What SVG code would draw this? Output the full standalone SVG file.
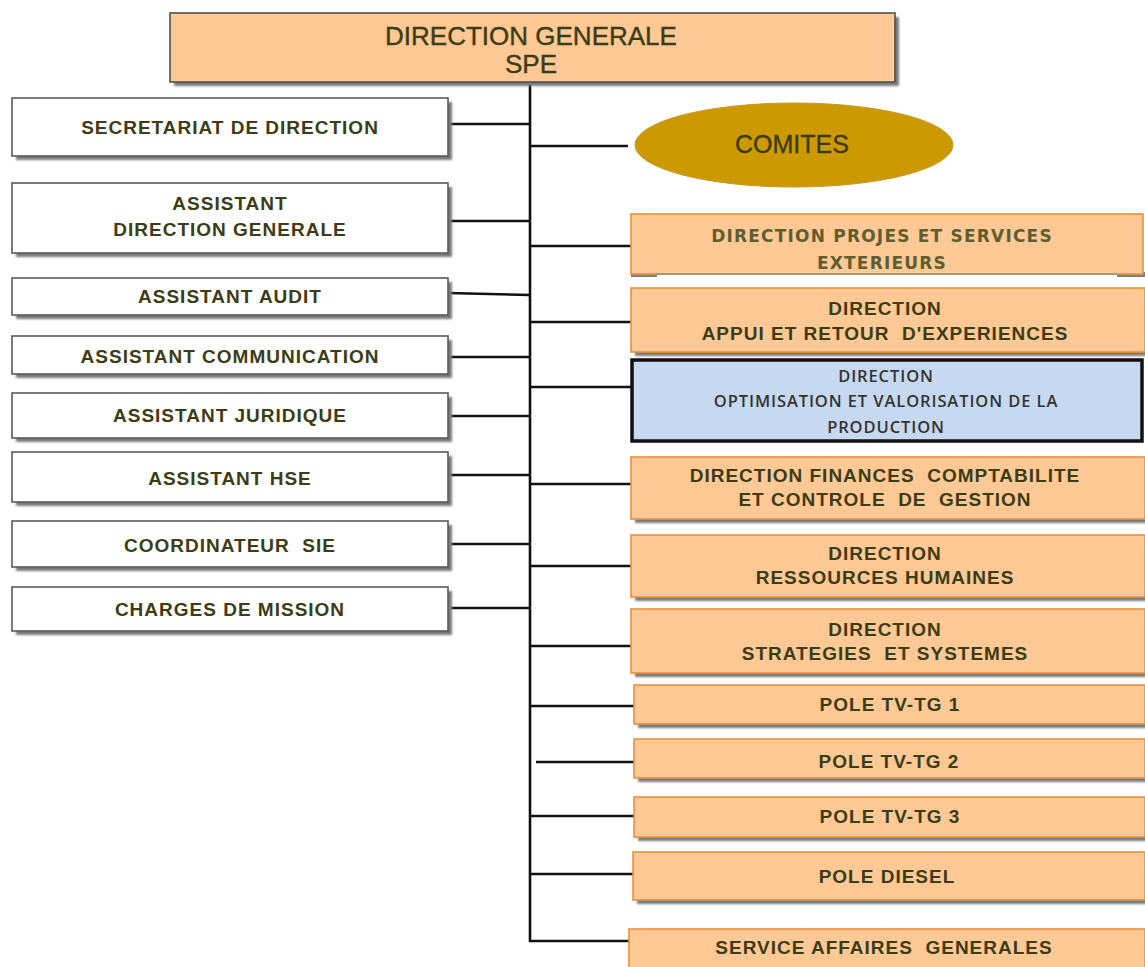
<svg xmlns="http://www.w3.org/2000/svg" width="1145" height="967" viewBox="0 0 1145 967">
<defs>
<filter id="sh" x="-5%" y="-20%" width="115%" height="160%">
<feGaussianBlur stdDeviation="1.2"/>
</filter>
<style>
.shadow{fill:#7a7a7a;filter:url(#sh)}
.lbox{fill:#ffffff;stroke:#5a5a5a;stroke-width:1.6}
.rbox{fill:#fec995;stroke:#e8923c;stroke-width:1.6}
.top{fill:#fec995;stroke:#505050;stroke-width:1.6}
.blue{fill:#c6d9f0;stroke:#111111;stroke-width:3.5}
.lt{font-family:"Liberation Sans",Arial,sans-serif;font-weight:bold;font-size:19px;letter-spacing:1px;fill:#3c3c15;text-anchor:middle;white-space:pre}
.rt{font-family:"Liberation Sans",Arial,sans-serif;font-weight:bold;font-size:19px;letter-spacing:1px;fill:#3c3c15;text-anchor:middle;white-space:pre}
.pt{font-family:"DejaVu Sans",sans-serif;font-weight:bold;font-size:17px;letter-spacing:1.2px;fill:#5e5e30;text-anchor:middle}
.bt{font-family:"Open Sans","Noto Sans",sans-serif;font-weight:600;font-size:16.5px;letter-spacing:0.9px;fill:#333333;text-anchor:middle}
.tt{font-family:"Liberation Sans",Arial,sans-serif;font-size:26px;fill:#3c3c15;stroke:#3c3c15;stroke-width:0.4;text-anchor:middle}
.ct{font-family:"Liberation Sans",Arial,sans-serif;font-size:25px;fill:#3a3a12;stroke:#3a3a12;stroke-width:0.3;text-anchor:middle}
.ln{stroke:#111111;stroke-width:2.6;fill:none}
</style>
</defs>
<rect width="1145" height="967" fill="#ffffff"/>

<g id="connectors">
<path class="ln" d="M530 82 V941 H630"/>
<line class="ln" x1="448" y1="124" x2="530" y2="124"/>
<line class="ln" x1="448" y1="221" x2="530" y2="221"/>
<line class="ln" x1="448" y1="293" x2="530" y2="295"/>
<line class="ln" x1="448" y1="357" x2="530" y2="357"/>
<line class="ln" x1="448" y1="416" x2="530" y2="416"/>
<line class="ln" x1="448" y1="475" x2="530" y2="475"/>
<line class="ln" x1="448" y1="544" x2="530" y2="544"/>
<line class="ln" x1="448" y1="608" x2="530" y2="608"/>
<line class="ln" x1="530" y1="146" x2="628" y2="146"/>
<line class="ln" x1="530" y1="246" x2="631" y2="246"/>
<line class="ln" x1="530" y1="322" x2="631" y2="322"/>
<line class="ln" x1="530" y1="387" x2="631" y2="387"/>
<line class="ln" x1="530" y1="484" x2="631" y2="484"/>
<line class="ln" x1="530" y1="566" x2="631" y2="566"/>
<line class="ln" x1="530" y1="646" x2="631" y2="646"/>
<line class="ln" x1="530" y1="706" x2="634" y2="706"/>
<line class="ln" x1="536" y1="762" x2="634" y2="762"/>
<line class="ln" x1="530" y1="816" x2="634" y2="816"/>
<line class="ln" x1="530" y1="874" x2="633" y2="874"/>
</g>

<g id="direction-generale">
<rect class="shadow" x="174" y="17" width="725" height="69"/>
<rect class="top" x="170" y="13" width="725" height="69"/>
<text class="tt" x="531" y="45">DIRECTION GENERALE</text>
<text class="tt" x="531" y="73">SPE</text>
</g>

<g id="secretariat">
<rect class="shadow" x="16" y="102" width="436" height="58"/>
<rect class="lbox" x="12" y="98" width="436" height="58"/>
<text class="lt" x="230" y="134">SECRETARIAT DE DIRECTION</text>
</g>
<g id="assistant-dg">
<rect class="shadow" x="16" y="187" width="436" height="70"/>
<rect class="lbox" x="12" y="183" width="436" height="70"/>
<text class="lt" x="230" y="210">ASSISTANT</text>
<text class="lt" x="230" y="236">DIRECTION GENERALE</text>
</g>
<g id="assistant-audit">
<rect class="shadow" x="16" y="282" width="436" height="37"/>
<rect class="lbox" x="12" y="278" width="436" height="37"/>
<text class="lt" x="230" y="303">ASSISTANT AUDIT</text>
</g>
<g id="assistant-communication">
<rect class="shadow" x="16" y="340" width="436" height="38"/>
<rect class="lbox" x="12" y="336" width="436" height="38"/>
<text class="lt" x="230" y="363">ASSISTANT COMMUNICATION</text>
</g>
<g id="assistant-juridique">
<rect class="shadow" x="16" y="397" width="436" height="45"/>
<rect class="lbox" x="12" y="393" width="436" height="45"/>
<text class="lt" x="230" y="422">ASSISTANT JURIDIQUE</text>
</g>
<g id="assistant-hse">
<rect class="shadow" x="16" y="456" width="436" height="50"/>
<rect class="lbox" x="12" y="452" width="436" height="50"/>
<text class="lt" x="230" y="485">ASSISTANT HSE</text>
</g>
<g id="coordinateur-sie">
<rect class="shadow" x="16" y="525" width="436" height="46"/>
<rect class="lbox" x="12" y="521" width="436" height="46"/>
<text class="lt" x="230" y="552">COORDINATEUR  SIE</text>
</g>
<g id="charges-mission">
<rect class="shadow" x="16" y="591" width="436" height="44"/>
<rect class="lbox" x="12" y="587" width="436" height="44"/>
<text class="lt" x="230" y="616">CHARGES DE MISSION</text>
</g>

<g id="comites">
<ellipse cx="794" cy="145" rx="159" ry="42" fill="#cc9900" stroke="#c89a20" stroke-width="1"/>
<text class="ct" x="792" y="153">COMITES</text>
</g>

<g id="dir-projets">
<rect x="631" y="272" width="26" height="5" fill="#808080"/>
<rect x="1117" y="272" width="28" height="5" fill="#808080"/>
<rect class="rbox" x="631" y="214" width="512" height="60"/>
<line x1="657" y1="274" x2="1117" y2="274" stroke="#8a9a7a" stroke-width="1.6"/>
<text class="pt" x="882" y="242">DIRECTION PROJES ET SERVICES</text>
<text class="pt" x="882" y="269">EXTERIEURS</text>
</g>
<g id="dir-appui">
<rect class="shadow" x="635" y="292" width="514" height="64"/>
<rect class="rbox" x="631" y="288" width="514" height="64"/>
<text class="rt" x="885" y="315">DIRECTION</text>
<text class="rt" x="885" y="340">APPUI ET RETOUR  D'EXPERIENCES</text>
</g>
<g id="dir-optimisation">
<rect class="blue" x="632" y="360" width="510" height="81"/>
<text class="bt" x="886" y="382">DIRECTION</text>
<text class="bt" x="886" y="407">OPTIMISATION ET VALORISATION DE LA</text>
<text class="bt" x="886" y="433">PRODUCTION</text>
</g>
<g id="dir-finances">
<rect class="shadow" x="635" y="461" width="514" height="62"/>
<rect class="rbox" x="631" y="457" width="514" height="62"/>
<text class="rt" x="885" y="482">DIRECTION FINANCES  COMPTABILITE</text>
<text class="rt" x="885" y="506">ET CONTROLE  DE  GESTION</text>
</g>
<g id="dir-rh">
<rect class="shadow" x="635" y="539" width="514" height="62"/>
<rect class="rbox" x="631" y="535" width="514" height="62"/>
<text class="rt" x="885" y="560">DIRECTION</text>
<text class="rt" x="885" y="584">RESSOURCES HUMAINES</text>
</g>
<g id="dir-strategies">
<rect class="shadow" x="635" y="613" width="514" height="64"/>
<rect class="rbox" x="631" y="609" width="514" height="64"/>
<text class="rt" x="885" y="636">DIRECTION</text>
<text class="rt" x="885" y="660">STRATEGIES  ET SYSTEMES</text>
</g>
<g id="pole-1">
<rect class="shadow" x="638" y="689" width="511" height="39"/>
<rect class="rbox" x="634" y="685" width="511" height="39"/>
<text class="rt" x="890" y="711">POLE TV-TG 1</text>
</g>
<g id="pole-2">
<rect class="shadow" x="638" y="743" width="511" height="39"/>
<rect class="rbox" x="634" y="739" width="511" height="39"/>
<text class="rt" x="889" y="768">POLE TV-TG 2</text>
</g>
<g id="pole-3">
<rect class="shadow" x="638" y="801" width="511" height="40"/>
<rect class="rbox" x="634" y="797" width="511" height="40"/>
<text class="rt" x="890" y="823">POLE TV-TG 3</text>
</g>
<g id="pole-diesel">
<rect class="shadow" x="637" y="856" width="512" height="48"/>
<rect class="rbox" x="633" y="852" width="512" height="48"/>
<text class="rt" x="887" y="883">POLE DIESEL</text>
</g>
<g id="service-affaires">
<rect class="rbox" x="629" y="929" width="516" height="45"/>
<text class="rt" x="884" y="954">SERVICE AFFAIRES  GENERALES</text>
</g>
</svg>
